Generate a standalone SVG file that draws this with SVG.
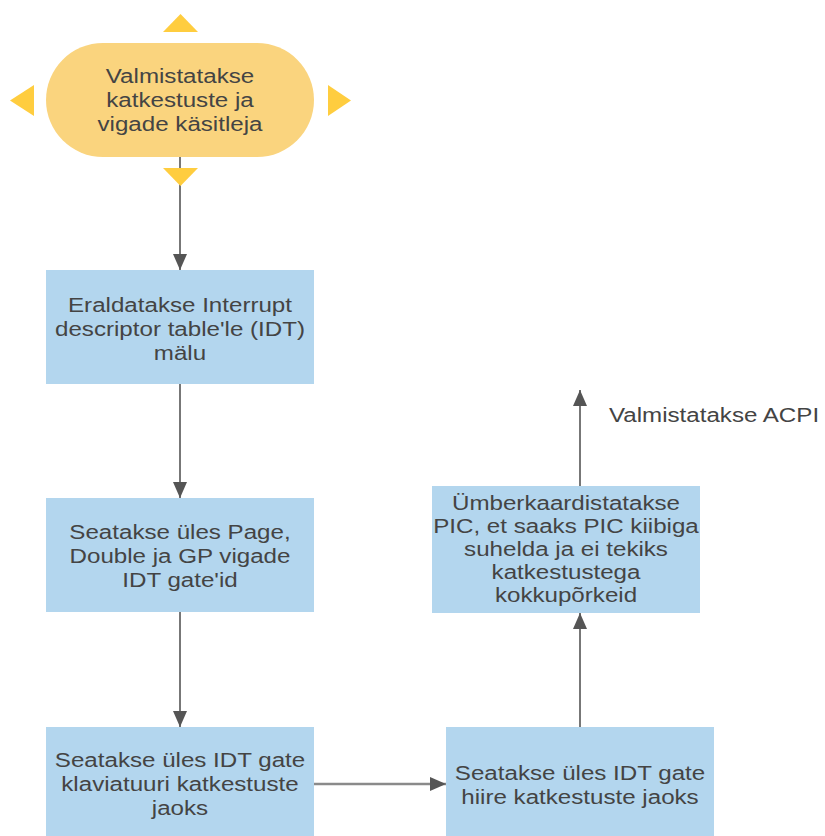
<svg xmlns="http://www.w3.org/2000/svg" width="825" height="836" viewBox="0 0 825 836">
  <style>
    .box { fill: #b3d6ee; stroke: none; }
    .term { fill: #fad47e; stroke: none; }
    .handle { fill: #ffcd3f; stroke: none; }
    .lbl { font-family: "Liberation Sans", Arial, sans-serif; font-size: 21px; fill: #444444; text-anchor: middle; }
    .note { font-family: "Liberation Sans", Arial, sans-serif; font-size: 21px; fill: #444444; }
    .edge { fill: none; stroke: #555555; stroke-width: 1.6; }
    .edge-h { fill: none; stroke: #8a8a8a; stroke-width: 2.4; }
  </style>
  <defs>
    <marker id="arrow" viewBox="0 0 16 14" refX="16" refY="7" markerWidth="16" markerHeight="14" markerUnits="userSpaceOnUse" orient="auto">
      <path d="M0,0 L16,7 L0,14 Z" fill="#555555"/>
    </marker>
  </defs>

  <rect width="825" height="836" fill="#ffffff"/>

  <!-- connectors -->
  <g id="connectors">
    <line class="edge" x1="180" y1="157" x2="180" y2="270" marker-end="url(#arrow)"/>
    <line class="edge" x1="180" y1="384" x2="180" y2="498" marker-end="url(#arrow)"/>
    <line class="edge" x1="180" y1="612" x2="180" y2="727" marker-end="url(#arrow)"/>
    <line class="edge-h" x1="314" y1="784" x2="446" y2="784" marker-end="url(#arrow)"/>
    <line class="edge" x1="580" y1="727" x2="580" y2="613" marker-end="url(#arrow)"/>
    <line class="edge" x1="580" y1="486" x2="580" y2="390" marker-end="url(#arrow)"/>
    <text class="note" transform="matrix(1.15 0 0 1 609 422)" x="0" y="0">Valmistatakse ACPI</text>
  </g>

  <!-- start: rounded terminal with its selection handles -->
  <g id="start">
    <rect class="term" x="46" y="43" width="268" height="114" rx="57" ry="57"/>
    <polygon class="handle" points="163,32 198,32 180.5,14"/>
    <polygon class="handle" points="163,168 198,168 180.5,186"/>
    <polygon class="handle" points="34,85 34,116 10,100.5"/>
    <polygon class="handle" points="328,85 328,116 351,100.5"/>
    <g transform="matrix(1.15 0 0 1 180 0)">
      <text class="lbl" x="0" y="83">Valmistatakse</text>
      <text class="lbl" x="0" y="107">katkestuste ja</text>
      <text class="lbl" x="0" y="131">vigade käsitleja</text>
    </g>
  </g>

  <g id="alloc-idt">
    <rect class="box" x="46" y="270" width="268" height="114"/>
    <g transform="matrix(1.15 0 0 1 180 0)">
      <text class="lbl" x="0" y="312">Eraldatakse Interrupt</text>
      <text class="lbl" x="0" y="336">descriptor table'le (IDT)</text>
      <text class="lbl" x="0" y="360">mälu</text>
    </g>
  </g>

  <g id="fault-gates">
    <rect class="box" x="46" y="498" width="268" height="114"/>
    <g transform="matrix(1.15 0 0 1 180 0)">
      <text class="lbl" x="0" y="539">Seatakse üles Page,</text>
      <text class="lbl" x="0" y="563">Double ja GP vigade</text>
      <text class="lbl" x="0" y="587">IDT gate'id</text>
    </g>
  </g>

  <g id="keyboard-gate">
    <rect class="box" x="46" y="727" width="268" height="114"/>
    <g transform="matrix(1.15 0 0 1 180 0)">
      <text class="lbl" x="0" y="767">Seatakse üles IDT gate</text>
      <text class="lbl" x="0" y="791">klaviatuuri katkestuste</text>
      <text class="lbl" x="0" y="815">jaoks</text>
    </g>
  </g>

  <g id="mouse-gate">
    <rect class="box" x="446" y="727" width="268" height="114"/>
    <g transform="matrix(1.15 0 0 1 580 0)">
      <text class="lbl" x="0" y="780">Seatakse üles IDT gate</text>
      <text class="lbl" x="0" y="804">hiire katkestuste jaoks</text>
    </g>
  </g>

  <g id="pic-remap">
    <rect class="box" x="432" y="486" width="268" height="127"/>
    <g transform="matrix(1.15 0 0 1 566 0)">
      <text class="lbl" x="0" y="510">Ümberkaardistatakse</text>
      <text class="lbl" x="0" y="533">PIC, et saaks PIC kiibiga</text>
      <text class="lbl" x="0" y="556">suhelda ja ei tekiks</text>
      <text class="lbl" x="0" y="579">katkestustega</text>
      <text class="lbl" x="0" y="602">kokkupõrkeid</text>
    </g>
  </g>
</svg>
